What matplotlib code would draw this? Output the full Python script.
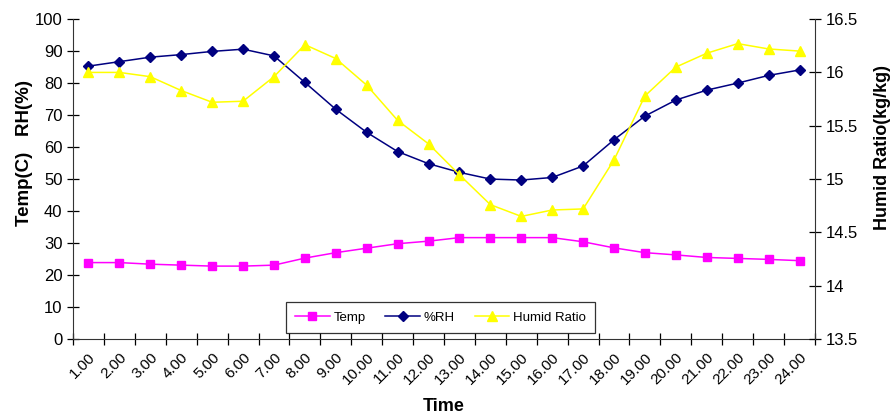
import numpy as np
import matplotlib.pyplot as plt
from matplotlib.ticker import FuncFormatter

plt.rcParams['font.family'] = ['Liberation Sans', 'DejaVu Sans']

hours = ['%d.00' % h for h in range(1, 25)]
temp = [23.9, 23.9, 23.4, 23.1, 22.8, 22.8, 23.1, 25.3, 27.0, 28.4, 29.8, 30.6,
        31.7, 31.7, 31.7, 31.7, 30.4, 28.5, 27.0, 26.3, 25.5, 25.2, 24.9, 24.5]
rh = [85.3, 86.7, 88.1, 88.9, 89.9, 90.6, 88.5, 80.2, 71.8, 64.6, 58.6, 54.8,
      52.1, 50.0, 49.7, 50.5, 54.1, 62.3, 69.7, 74.7, 77.8, 80.0, 82.4, 84.1]
humid = [16.0, 16.0, 15.96, 15.83, 15.72, 15.73, 15.96, 16.26, 16.13, 15.88, 15.55, 15.33,
         15.04, 14.76, 14.65, 14.71, 14.72, 15.18, 15.78, 16.05, 16.18, 16.27, 16.22, 16.20]

x = np.arange(len(hours)) + 0.5

fig = plt.figure(figsize=(8.95, 4.15), dpi=100)
ax = fig.add_axes([0.0816, 0.183, 0.829, 0.771])
ax2 = ax.twinx()

l1, = ax.plot(x, temp, color='#FF00FF', marker='s', markersize=5.5, lw=1.1, label='Temp')
l2, = ax.plot(x, rh, color='#000080', marker='D', markersize=5, lw=1.1, label='%RH')
l3, = ax2.plot(x, humid, color='#FFFF00', marker='^', markersize=7, lw=1.1, label='Humid Ratio')

ax.set_xlim(0, 24)
ax.set_ylim(0, 100)
ax2.set_ylim(13.5, 16.5)
ax.set_yticks(range(0, 101, 10))
ax2.set_yticks(np.arange(13.5, 16.51, 0.5))
ax2.yaxis.set_major_formatter(FuncFormatter(lambda v, p: '%g' % v))

ax.set_xticks(range(0, 25))
ax.set_xticklabels([])
ax.set_xticks(x, minor=True)
ax.set_xticklabels(hours, minor=True, rotation=45, ha='right', va='top',
                   rotation_mode='anchor', fontsize=11)
ax.tick_params(axis='x', which='minor', length=0, pad=8)
ax.tick_params(axis='x', which='major', direction='inout', length=8, width=0.9)
ax.tick_params(axis='y', direction='inout', length=8, width=0.9, labelsize=12)
ax2.tick_params(axis='y', direction='inout', length=8, width=0.9, labelsize=12)

for a in (ax, ax2):
    a.spines['top'].set_visible(False)
    for s in ('left', 'right', 'bottom'):
        a.spines[s].set_color('#333333')
ax2.spines['left'].set_visible(False)
ax2.spines['bottom'].set_visible(False)
ax.spines['right'].set_visible(False)

ax.set_ylabel('Temp(C)   RH(%)', fontsize=13.5, fontweight='bold')
ax.yaxis.set_label_coords(-0.054, 0.58)
ax2.set_ylabel('Humid Ratio(kg/kg)', fontsize=13, fontweight='bold')
ax2.yaxis.set_label_coords(1.079, 0.60)
ax.set_xlabel('Time', fontsize=13, fontweight='bold', labelpad=8)

leg = ax.legend(handles=[l1, l2, l3], ncol=3, loc='lower left',
                bbox_to_anchor=(0.287, 0.019), borderaxespad=0, frameon=True,
                fancybox=False, edgecolor='black', fontsize=9.5, handlelength=2.6,
                columnspacing=1.5, borderpad=0.7, handletextpad=0.3)
leg.get_frame().set_linewidth(0.9)
leg.set_zorder(5)

fig.savefig('out.png', dpi=100)
